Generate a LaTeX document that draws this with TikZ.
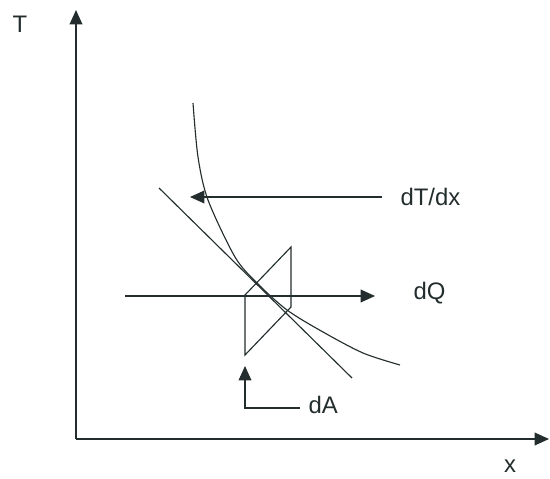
\documentclass[tikz,border=0pt]{standalone}
\usepackage{fontspec}
\setmainfont{Liberation Sans}
\usetikzlibrary{arrows.meta}
\definecolor{ink}{RGB}{35,45,45}
\tikzset{
  arr/.style={-{Triangle[length=3.6mm,width=3.2mm]}},
  lbl/.style={inner sep=0pt, font=\fontsize{17}{20}\selectfont},
}
\begin{document}
\begin{tikzpicture}[ink, line width=0.8pt]
\useasboundingbox (-1.85,-1.025) rectangle (11.9,10.925);

\coordinate (O) at (0.05,-0.05);
\coordinate (Ttip) at (0.05,10.675);
\coordinate (xtip) at (11.875,-0.05);
\node[lbl] (Tlab) at (-1.35,10.325) {T};
\node[lbl] (xlab) at (10.9,-0.74) {x};

\draw[arr] (O) -- (Ttip);
\draw[arr] (O) -- (xtip);

% temperature profile
\draw plot[smooth] coordinates {(2.975,8.35) (3.1,7.0) (3.35,5.925) (4.025,4.5) (4.575,3.85) (5.325,3.175) (6.225,2.625) (7.225,2.1) (8.15,1.8)};

% tangent
\coordinate (tanA) at (2.125,6.225);
\coordinate (tanB) at (6.95,1.475);
\draw (tanA) -- (tanB);

% gradient
\node[lbl, anchor=west] (dTlab) at (8.15,6.0) {dT/dx};
\coordinate (dTtip) at (2.9,6.0);
\draw[arr, shorten <=4.5mm] (dTlab.west) -- (dTtip);

% heat flow
\coordinate (dQa) at (1.275,3.525);
\coordinate (dQb) at (7.525,3.525);
\draw[arr] (dQa) -- (dQb);
\node[lbl, anchor=west] (dQlab) at (8.475,3.6) {dQ};

% area element
\coordinate (pA) at (4.275,3.55);
\coordinate (pB) at (5.425,4.75);
\coordinate (pC) at (5.425,3.25);
\coordinate (pD) at (4.275,2.05);
\draw (pA) -- (pB) -- (pC) -- (pD) -- cycle;

\node[lbl, anchor=west] (dAlab) at (5.85,0.8) {dA};
\coordinate (dAend) at (5.65,0.725);
\coordinate (dAtip) at (4.275,1.775);
\draw[arr] (dAend) -| (dAtip);
\end{tikzpicture}
\end{document}
